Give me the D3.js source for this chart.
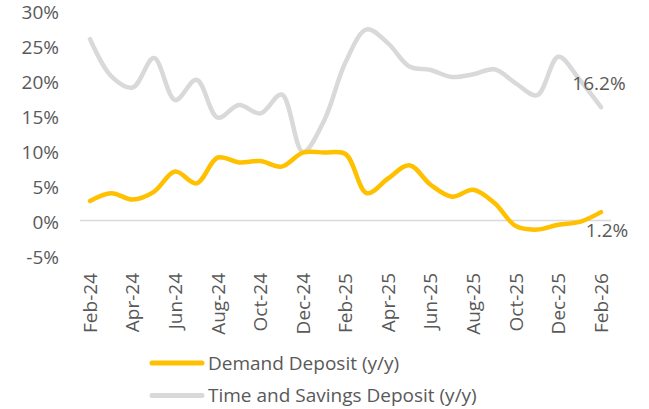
<!DOCTYPE html>
<html>
<head>
<meta charset="utf-8">
<script src="https://cdn.jsdelivr.net/npm/d3@7"></script>
<style>
  body { margin: 0; background: #fff; }
  text { font-family: "Open Sans", sans-serif; fill: #595959; }
</style>
</head>
<body>
<div id="chart"></div>
<script>
// months shown on the category axis
var months = ["Feb-24","Mar-24","Apr-24","May-24","Jun-24","Jul-24","Aug-24","Sep-24","Oct-24","Nov-24","Dec-24",
  "Jan-25","Feb-25","Mar-25","Apr-25","May-25","Jun-25","Jul-25","Aug-25","Sep-25","Oct-25","Nov-25","Dec-25",
  "Jan-26","Feb-26"];
// y/y growth, %
var demand = [2.8, 3.9, 3.0, 4.1, 7.0, 5.3, 9.0, 8.3, 8.5, 7.7, 9.7,
  9.7, 9.5, 3.9, 6.0, 7.9, 5.1, 3.4, 4.4, 2.5, -0.8, -1.3, -0.6,
  -0.2, 1.2];
var timeSavings = [25.9, 20.6, 19.0, 23.2, 17.2, 20.1, 14.7, 16.5, 15.3, 18.0, 9.8,
  14.3, 22.6, 27.3, 25.3, 22.0, 21.5, 20.5, 20.9, 21.6, 19.6, 17.9, 23.4,
  20.1, 16.2];
var yTicks = [-5, 0, 5, 10, 15, 20, 25, 30];
var seriesNames = ["Demand Deposit (y/y)", "Time and Savings Deposit (y/y)"];
var colors = ["#FFC000", "#D9D9D9"];

var width = 649, height = 409;
var svg = d3.select("#chart").append("svg")
  .attr("width", width).attr("height", height);

var x = d3.scalePoint().domain(months).range([79.4, 611.6]).padding(0.5);
var y = d3.scaleLinear().domain([-5, 30]).range([255.5, 10.5]);

// y labels
svg.append("g").selectAll("text")
  .data(yTicks).enter().append("text")
  .attr("x", 59)
  .attr("y", function (d) { return y(d); })
  .attr("dy", "0.44em")
  .attr("text-anchor", "end")
  .style("font-size", "19px")
  .text(function (d) { return d + "%"; });

// zero line
svg.append("line")
  .attr("x1", 80).attr("x2", 611)
  .attr("y1", y(0)).attr("y2", y(0))
  .style("stroke", "#D9D9D9").style("stroke-width", 1.5);

// x labels, every second month
svg.append("g").selectAll("text")
  .data(months.filter(function (d, i) { return i % 2 == 0; }))
  .enter().append("text")
  .attr("transform", function (d) { return "translate(" + x(d) + ",273) rotate(-90)"; })
  .attr("dy", "0.36em")
  .attr("text-anchor", "end")
  .style("font-size", "19px")
  .text(function (d) { return d; });

var line = d3.line()
  .x(function (d, i) { return x(months[i]); })
  .y(function (d) { return y(d); })
  .curve(d3.curveCatmullRom);

[timeSavings, demand].forEach(function (values, k) {
  svg.append("path")
    .datum(values)
    .attr("d", line)
    .style("fill", "none")
    .style("stroke", k == 0 ? colors[1] : colors[0])
    .style("stroke-width", 4.5)
    .style("stroke-linecap", "round")
    .style("stroke-linejoin", "round");
});

// end labels
var last = months.length - 1;
svg.append("text")
  .attr("x", 599).attr("y", y(timeSavings[last]) - 24).attr("dy", "0.36em")
  .attr("text-anchor", "middle")
  .style("font-size", "19px")
  .text(timeSavings[last].toFixed(1) + "%");
svg.append("text")
  .attr("x", 607).attr("y", y(demand[last]) + 18).attr("dy", "0.36em")
  .attr("text-anchor", "middle")
  .style("font-size", "19px")
  .text(demand[last].toFixed(1) + "%");

// legend
var legend = svg.append("g").selectAll("g")
  .data(seriesNames).enter().append("g")
  .attr("transform", function (d, i) { return "translate(0," + (363 + i * 32.5) + ")"; });
legend.append("line")
  .attr("x1", 152).attr("x2", 202)
  .style("stroke", function (d, i) { return colors[i]; })
  .style("stroke-width", 5)
  .style("stroke-linecap", "round");
legend.append("text")
  .attr("x", 208).attr("dy", "0.36em")
  .style("font-size", "19px")
  .text(function (d) { return d; });
</script>
</body>
</html>
